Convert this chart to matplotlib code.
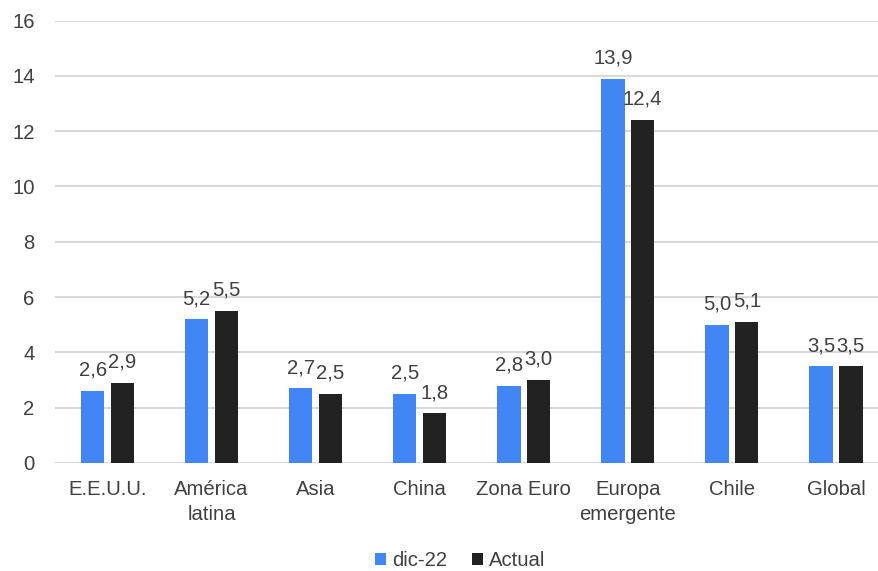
import matplotlib
matplotlib.use("Agg")
import matplotlib.pyplot as plt
import numpy as np
from matplotlib.patches import Patch

plt.rcParams['font.family'] = ['Liberation Sans', 'DejaVu Sans']

categories = ["E.E.U.U.", "América\nlatina", "Asia", "China", "Zona Euro",
              "Europa\nemergente", "Chile", "Global"]
dic22 = [2.6, 5.2, 2.7, 2.5, 2.8, 13.9, 5.0, 3.5]
actual = [2.9, 5.5, 2.5, 1.8, 3.0, 12.4, 5.1, 3.5]
series_names = ["dic-22", "Actual"]
yticks = [0, 2, 4, 6, 8, 10, 12, 14, 16]

BLUE = "#4285F4"
DARK = "#222222"
TEXT = "#404040"
GRID = "#d9d9d9"
FS = 14.6

W, H = 879, 571
fig = plt.figure(figsize=(W / 100, H / 100), dpi=100)
left_px, right_px = 55.5, 888
bottom_px, top_px = 463, 20.5
ax = fig.add_axes([left_px / W, (H - bottom_px) / H,
                   (right_px - left_px) / W, (bottom_px - top_px) / H])

x = np.arange(len(categories))
bw = 0.224
off = 0.143
b1 = ax.bar(x - off, dic22, bw, color=BLUE, zorder=3)
b2 = ax.bar(x + off, actual, bw, color=DARK, zorder=3)

def fmt(v):
    return f"{v:.1f}".replace(".", ",")

for bars, vals in ((b1, dic22), (b2, actual)):
    for r, v in zip(bars, vals):
        ax.annotate(fmt(v), (r.get_x() + r.get_width() / 2, v),
                    xytext=(0, 8), textcoords="offset points",
                    ha="center", va="bottom", fontsize=FS, color=TEXT, zorder=4)

ax.set_xlim(-0.5, len(categories) - 0.5)
ax.set_ylim(0, 16)
ax.set_yticks(yticks)
ax.set_yticklabels([str(t) for t in yticks])
ax.set_xticks(x)
ax.set_xticklabels(categories, linespacing=1.42)
ax.tick_params(axis="both", length=0, labelsize=FS, colors=TEXT)
ax.tick_params(axis="y", pad=15)
ax.tick_params(axis="x", pad=12)
for s in ax.spines.values():
    s.set_visible(False)
ax.yaxis.grid(True, color=GRID, linewidth=1.5, zorder=0)
ax.set_axisbelow(True)

handles = [Patch(facecolor=BLUE, label=series_names[0]),
           Patch(facecolor=DARK, label=series_names[1])]
fig.legend(handles=handles, loc="center", bbox_to_anchor=(460 / W, 1 - 561 / H),
           ncol=2, frameon=False, fontsize=FS, labelcolor=TEXT,
           handlelength=0.55, handleheight=0.55, handletextpad=0.3,
           columnspacing=1.2)

fig.savefig("out.png", dpi=100)
